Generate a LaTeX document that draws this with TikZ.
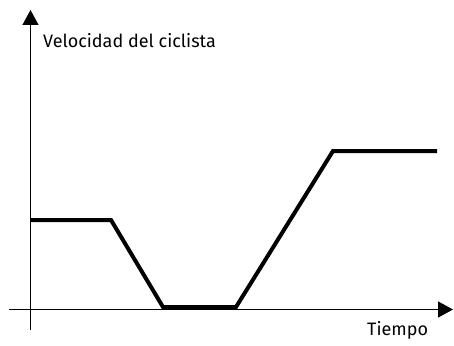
\documentclass[tikz,border=0pt]{standalone}
\usepackage{fontspec}
\setmainfont{Fira Sans}
\usetikzlibrary{arrows.meta}
\begin{document}
\begin{tikzpicture}[x=1pt,y=-1pt,
  axis/.style={line width=1.3pt,-{Triangle[length=15pt,width=16pt]}},
  curve/.style={line width=4pt,line join=miter},
  lbl/.style={font=\fontsize{18}{20}\selectfont,inner sep=0pt}]
\useasboundingbox (0,0) rectangle (454,345);
\coordinate (ys) at (30.5,330);
\coordinate (ye) at (30.5,10);
\coordinate (xs) at (9,309.5);
\coordinate (xe) at (453,309.5);
\draw[axis] (ys) -- (ye);
\draw[axis] (xs) -- (xe);
\coordinate (p0) at (31,220);
\coordinate (p1) at (111,220);
\coordinate (p2) at (163,307);
\coordinate (p3) at (236,307);
\coordinate (p4) at (333,151);
\coordinate (p5) at (437,151);
\draw[curve] (p0) -- (p1) -- (p2) -- (p3) -- (p4) -- (p5);
\node[lbl,anchor=base west] (vl) at (43,48) {Velocidad del ciclista};
\node[lbl,anchor=base west] (tl) at (367,335) {Tiempo};
\end{tikzpicture}
\end{document}
